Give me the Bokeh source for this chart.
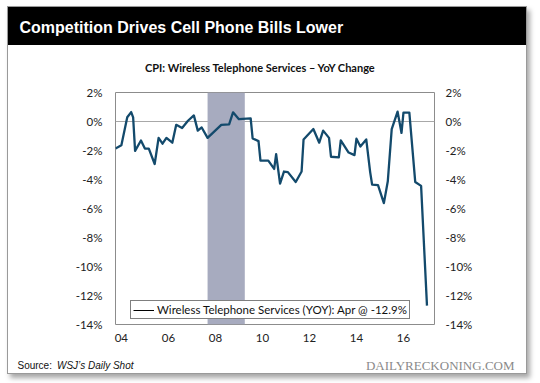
import math
from bokeh.plotting import figure
from bokeh.layouts import column
from bokeh.models import (Range1d, LinearAxis, FixedTicker, Span, BoxAnnotation,
                          Label, Legend, LegendItem, ColumnDataSource)
from bokeh.embed import file_html
from bokeh.resources import INLINE

# ---- data ----
dates = ["2004-01", "2004-04", "2004-07", "2004-09", "2004-10", "2004-11", "2005-02", "2005-04",
         "2005-06", "2005-09", "2005-11", "2006-01", "2006-03", "2006-06", "2006-08", "2006-11",
         "2007-02", "2007-05", "2007-07", "2007-09", "2007-12", "2008-07", "2008-11", "2009-01",
         "2009-04", "2009-10", "2009-11", "2010-02", "2010-03", "2010-07", "2010-10", "2010-11",
         "2011-01", "2011-03", "2011-05", "2011-09", "2011-12", "2012-01", "2012-06", "2012-09",
         "2012-11", "2013-02", "2013-03", "2013-07", "2013-08", "2013-12", "2014-03", "2014-04",
         "2014-06", "2014-09", "2014-11", "2014-12", "2015-03", "2015-06", "2015-08", "2015-10",
         "2016-01", "2016-03", "2016-04", "2016-07", "2016-10", "2017-01", "2017-04"]
yoy = [-1.87, -1.64, 0.29, 0.65, 0.29, -2.03, -1.31, -1.87, -1.87, -2.93,
       -1.13, -1.53, -1.13, -1.46, -0.23, -0.45, 0.05, 0.42, -0.63, -0.41,
       -1.13, -0.23, -0.20, 0.63, 0.16, 0.22, -1.17, -1.35, -2.70, -2.70,
       -3.27, -2.25, -4.28, -3.45, -3.49, -4.17, -3.45, -1.24, -0.52, -1.46,
       -0.63, -1.13, -2.43, -2.48, -1.31, -2.14, -2.32, -1.19, -1.73, -1.24,
       -3.49, -4.35, -4.39, -5.63, -4.12, -0.52, 0.68, -0.79, 0.61, 0.61,
       -4.17, -4.44, -12.70]
recession = ("2007-12", "2009-07")
y_ticks = [-14, -12, -10, -8, -6, -4, -2, 0, 2]
x_tick_years = [2004, 2006, 2008, 2010, 2012, 2014, 2016]
x_tick_labels = ["04", "06", "08", "10", "12", "14", "16"]

header_text = "Competition Drives Cell Phone Bills Lower"
subtitle_text = "CPI: Wireless Telephone Services \u2013 YoY Change"
legend_text = "Wireless Telephone Services (YOY): Apr @ -12.9%"
source_lead = "Source: "
source_name = "WSJ\u2019s Daily Shot"
brand_text = "DAILYRECKONING.COM"


def frac_year(s):
    y, m = s.split("-")
    return int(y) + (int(m) - 1) / 12.0


xs = [frac_year(d) for d in dates]

LINE = "#134a6c"
FONT = "Lato"

p = figure(width=518, height=366, output_backend="svg", toolbar_location=None,
           x_range=Range1d(2004.0, 2017.57), y_range=Range1d(-14, 2),
           min_border_left=107, min_border_right=92, min_border_top=85, min_border_bottom=49,
           y_axis_location=None, x_axis_location=None)
p.background_fill_color = "white"
p.border_fill_color = None
p.outline_line_color = "#8c8c8c"
p.outline_line_width = 1
p.xgrid.visible = False
p.ygrid.visible = False

yfmt = {v: f"{v}%" for v in y_ticks}
for side, standoff in (("left", 13), ("right", 11)):
    ax = LinearAxis(ticker=FixedTicker(ticks=y_ticks), major_label_overrides=yfmt)
    ax.axis_line_color = None
    ax.major_tick_line_color = None
    ax.minor_tick_line_color = None
    ax.major_tick_out = 0
    ax.major_tick_in = 0
    ax.major_label_standoff = standoff
    ax.major_label_text_font = FONT
    ax.major_label_text_font_size = "11.5px"
    ax.major_label_text_color = "#222222"
    p.add_layout(ax, side)

xt = [y + 0.25 for y in x_tick_years]
xax = LinearAxis(ticker=FixedTicker(ticks=xt),
                 major_label_overrides={t: l for t, l in zip(xt, x_tick_labels)})
xax.axis_line_color = None
xax.major_tick_line_color = None
xax.minor_tick_line_color = None
xax.major_tick_out = 0
xax.major_tick_in = 0
xax.major_label_standoff = 9
xax.major_label_text_font = FONT
xax.major_label_text_font_size = "11.5px"
xax.major_label_text_color = "#222222"
p.add_layout(xax, "below")

p.add_layout(Span(location=0, dimension="width", line_color="#a8a8a8", line_width=1, level="underlay"))
p.add_layout(BoxAnnotation(left=frac_year(recession[0]), right=frac_year(recession[1]),
                           fill_color="#a7abbf", fill_alpha=1.0, line_color=None, level="underlay"))

src = ColumnDataSource(dict(x=xs, y=yoy))
p.line("x", "y", source=src, line_color=LINE, line_width=2.3, line_join="round")

dummy = p.line(x=[math.nan], y=[math.nan], line_color="black", line_width=1)
legend = Legend(items=[LegendItem(label=legend_text, renderers=[dummy])],
                location=(15, 5), orientation="vertical")
legend.border_line_color = "black"
legend.border_line_width = 1
legend.background_fill_color = "white"
legend.background_fill_alpha = 1
legend.padding = 2
legend.margin = 0
legend.spacing = 0
legend.glyph_width = 21
legend.glyph_height = 12
legend.label_height = 12
legend.label_standoff = 3
legend.label_text_font = FONT
legend.label_text_font_size = "11.5px"
legend.label_text_color = "#111111"
legend.label_text_baseline = "middle"
p.add_layout(legend, "center")


def canvas_label(x, y, text, **kw):
    return Label(x=x, y=y, x_units="canvas", y_units="canvas", text=text,
                 text_baseline="middle", **kw)


# texts outside the plot area, in canvas pixels (placed in a side panel so they are not clipped)
for lab in [
    canvas_label(11, 19.5, header_text, text_font="Liberation Sans", text_font_style="bold",
                 text_font_size="16px", text_color="white", text_align="left"),
    canvas_label(252, 59.5, subtitle_text, text_font=FONT, text_font_style="bold",
                 text_font_size="11px", text_color="#111111", text_align="center"),
    canvas_label(9, 358, source_lead, text_font="Liberation Sans", text_font_size="10px",
                 text_color="#111111", text_align="left"),
    canvas_label(48.5, 358, source_name, text_font="Liberation Sans", text_font_style="italic",
                 text_font_size="10px", text_color="#111111", text_align="left"),
    canvas_label(506, 357.5, brand_text, text_font="Liberation Serif", text_font_size="13px",
                 text_color="#8a8a8a", text_align="right"),
]:
    p.add_layout(lab, "above")

page = column(p, spacing=0, margin=(6, 0, 0, 7),
              styles={"border": "1px solid #9a9a9a",
                      "box-shadow": "3px 4px 5px rgba(0,0,0,0.35)",
                      "background": "linear-gradient(#000, #000) 0px 0px / 100% 38px no-repeat, #ffffff"})

open("out.html", "w").write(file_html(page, INLINE))
